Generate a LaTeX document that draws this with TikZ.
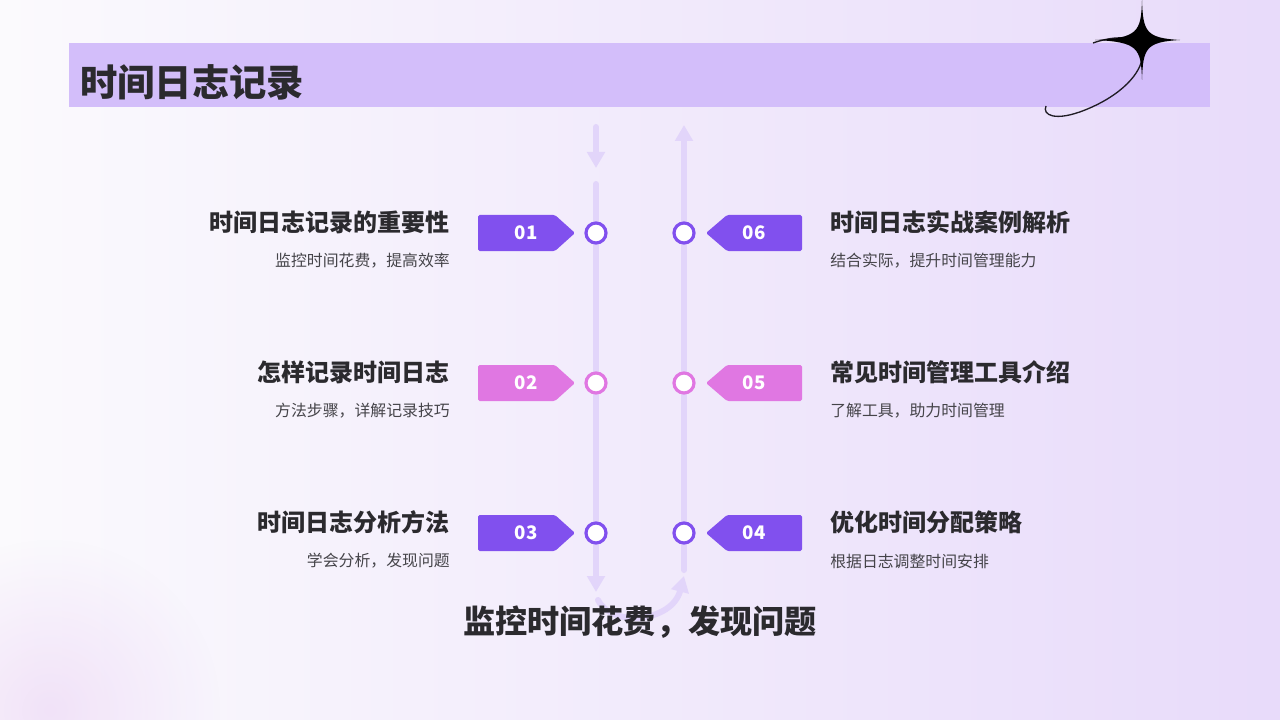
\documentclass[tikz,border=0pt]{standalone}
\usepackage{fontspec}
\setmainfont{Noto Sans CJK SC}
\usetikzlibrary{arrows.meta,shapes.geometric,fadings}
\definecolor{bgL}{HTML}{FBFAFD}
\definecolor{bgR}{HTML}{E8DBFA}
\definecolor{bar}{HTML}{D3BEFA}
\definecolor{txt}{HTML}{2B2A2E}
\definecolor{sub}{HTML}{454449}
\definecolor{pur}{HTML}{8150EE}
\definecolor{pnk}{HTML}{E077E2}
\definecolor{track}{HTML}{E2D5FA}
\definecolor{glow}{HTML}{EBD3F5}
\tikzfading[name=glowfade, inner color=transparent!0, outer color=transparent!100]
\tikzset{
  tagR/.style={fill=#1, rounded corners=1.2pt},
  dot/.style={circle, draw=#1, line width=2.4pt, fill=white, minimum size=15pt, inner sep=0pt},
  num/.style={text=white, font=\bfseries\fontsize{14}{16}\selectfont},
  ttl/.style={text=txt, font=\bfseries\fontsize{18}{20}\selectfont, inner sep=0pt},
  sbt/.style={text=sub, font=\fontsize{11.9}{14}\selectfont, inner sep=0pt},
  trk/.style={draw=track, line width=4.5pt, line cap=round},
  trkarrow/.style={trk, -{Triangle[width=13pt,length=12pt]}}
}
\begin{document}
\begin{tikzpicture}[x=0.75pt,y=-0.75pt]
\useasboundingbox (0,0) rectangle (1280,720);
% background
\shade[left color=bgL, right color=bgR] (0,0) rectangle (1280,720);
\fill[glow, path fading=glowfade, fill opacity=0.6] (50,710) circle (170);
% title bar
\fill[bar] (69,43) rectangle (1210,107);
\node[anchor=west, text=txt, font=\bfseries\fontsize{28}{30}\selectfont, inner sep=0pt] (title) at (80,82) {时间日志记录};
% star decoration
\draw[black!85!bar, line width=1pt] (1093,43) .. controls (1160,20) and (1160,80) .. (1085,110) .. controls (1055,122) and (1042,115) .. (1046,106);
\fill[black] (1142,0) .. controls (1143,32) and (1146,38) .. (1180,40) .. controls (1146,42) and (1143,48) .. (1142,80) .. controls (1141,48) and (1138,42) .. (1095,40) .. controls (1138,38) and (1141,32) .. (1142,0) -- cycle;
\fill[black] (1142,40) circle (8);
% tracks
\coordinate (la0) at (596,127);
\coordinate (la1) at (596,168);
\coordinate (lb0) at (596,184);
\coordinate (lb1) at (596,592);
\coordinate (ra0) at (684,570);
\coordinate (ra1) at (684,125);
\coordinate (c0) at (598,600);
\coordinate (c1) at (684,576);
\draw[trkarrow] (la0) -- (la1);
\draw[trkarrow] (lb0) -- (lb1);
\draw[trkarrow] (ra0) -- (ra1);
\draw[trkarrow] (c0) .. controls (612,628) and (672,622) .. (c1);
% rows
\foreach \y/\n/\col/\ta/\sa [count=\i] in {
  233/01/pur/时间日志记录的重要性/监控时间花费，提高效率,
  383/02/pnk/怎样记录时间日志/方法步骤，详解记录技巧,
  533/03/pur/时间日志分析方法/学会分析，发现问题}{
  \fill[tagR=\col] (478,\y-18) -- (555,\y-18) -- (575,\y) -- (555,\y+18) -- (478,\y+18) -- cycle;
  \node[num] (ln\i) at (526,\y) {\n};
  \node[dot=\col] (ld\i) at (596,\y) {};
  \node[ttl, anchor=east] (lt\i) at (450,\y-11) {\ta};
  \node[sbt, anchor=east] (ls\i) at (450,\y+28) {\sa};
}
\foreach \y/\n/\col/\ta/\sa [count=\i] in {
  233/06/pur/时间日志实战案例解析/结合实际，提升时间管理能力,
  383/05/pnk/常见时间管理工具介绍/了解工具，助力时间管理,
  533/04/pur/优化时间分配策略/根据日志调整时间安排}{
  \fill[tagR=\col] (802,\y-18) -- (727,\y-18) -- (706,\y) -- (727,\y+18) -- (802,\y+18) -- cycle;
  \node[num] (rn\i) at (754,\y) {\n};
  \node[dot=\col] (rd\i) at (684,\y) {};
  \node[ttl, anchor=west] (rt\i) at (830,\y-11) {\ta};
  \node[sbt, anchor=west] (rs\i) at (830,\y+28) {\sa};
}
% bottom text
\node[text=txt, font=\bfseries\fontsize{24.1}{28}\selectfont, inner sep=0pt] (bottom) at (640,622) {监控时间花费，发现问题};
\end{tikzpicture}
\end{document}
